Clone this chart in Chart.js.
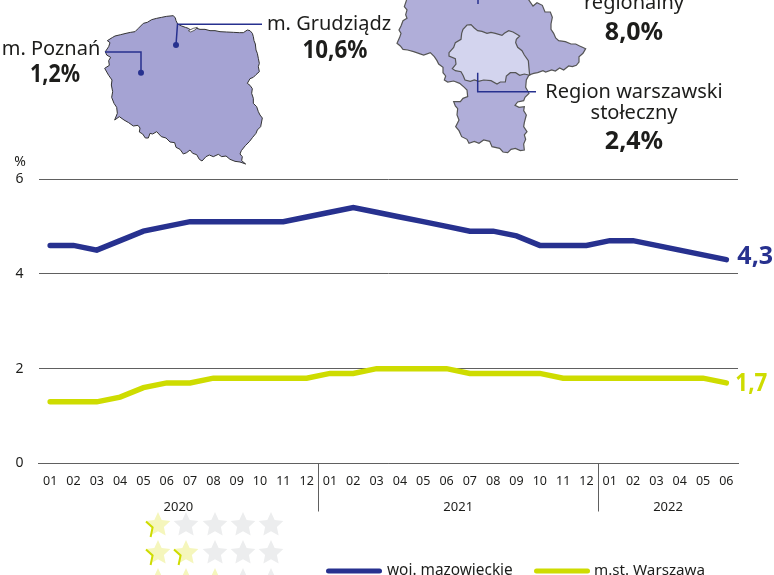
<!DOCTYPE html>
<html lang="pl">
<head>
<meta charset="utf-8">
<style>
html,body{margin:0;padding:0;background:#fff;overflow:hidden}
#wrap{position:relative;width:774px;height:575px}
canvas{display:block}
</style>
<script src="https://cdn.jsdelivr.net/npm/chart.js@4/dist/chart.umd.min.js"></script>
</head>
<body>
<div id="wrap"><canvas id="c" width="774" height="575"></canvas></div>
<script>
const monthLabels = ['01','02','03','04','05','06','07','08','09','10','11','12',
                     '01','02','03','04','05','06','07','08','09','10','11','12',
                     '01','02','03','04','05','06'];
const years = [{label:'2020',from:0,to:11},{label:'2021',from:12,to:23},{label:'2022',from:24,to:29}];
const mazowieckie = [4.6,4.6,4.5,4.7,4.9,5.0,5.1,5.1,5.1,5.1,5.1,5.2,
                     5.3,5.4,5.3,5.2,5.1,5.0,4.9,4.9,4.8,4.6,4.6,4.6,
                     4.7,4.7,4.6,4.5,4.4,4.3];
const warszawa =    [1.3,1.3,1.3,1.4,1.6,1.7,1.7,1.8,1.8,1.8,1.8,1.8,
                     1.9,1.9,2.0,2.0,2.0,2.0,1.9,1.9,1.9,1.9,1.8,1.8,
                     1.8,1.8,1.8,1.8,1.8,1.7];
const yTicks = [0,2,4,6];
const seriesNames = ['woj. mazowieckie','m.st. Warszawa'];
const BLUE='#27318f', GREEN='#cedc00', INK='#1d1d1b', GRID='#606060';
const FONT='"Noto Sans", "Open Sans", sans-serif';

/* decorative map outlines, traced at 3x and scaled down */
const polandOutline=[322,122,338,112,345,108,362,104,378,100,392,97,405,95,414,86,422,78,430,70,442,67,455,59,470,55,485,52,500,49,520,47,526,54,528,62,533,72,545,78,556,82,565,85,572,90,590,85,600,88,615,88,630,92,645,92,660,95,680,96,700,97,718,98,730,98,742,90,750,92,757,100,760,110,762,122,766,132,768,150,772,160,775,175,778,190,775,200,778,215,768,224,760,232,750,236,742,250,750,256,757,266,755,280,760,295,760,310,770,320,775,335,780,345,787,354,782,380,772,390,768,400,758,412,748,425,736,437,724,452,720,462,727,470,725,482,737,492,720,486,705,484,690,478,678,468,665,470,655,463,640,470,628,465,618,470,606,483,598,478,590,464,578,460,570,450,560,458,550,462,540,448,528,442,524,428,510,426,498,414,484,410,470,395,458,402,450,400,445,414,436,414,428,402,418,396,420,384,414,376,400,378,386,368,372,360,358,350,344,360,352,340,350,322,342,310,335,292,338,275,334,255,336,240,326,226,314,205,328,196,326,182,332,172,320,165,316,155,326,140,330,128];
const hel=[565,92,580,85,592,82,585,90,572,96];
const mazOutline=[60,-12,58,2,52,20,60,30,56,44,60,55,48,62,42,78,36,90,42,100,38,112,30,130,40,138,48,148,62,150,80,155,95,160,110,165,130,158,142,170,150,182,155,192,168,202,168,218,176,228,172,240,182,246,200,243,218,250,232,262,240,270,242,290,228,295,220,305,200,305,205,318,212,326,210,345,216,360,206,380,216,392,224,410,240,418,246,430,262,424,276,430,290,420,308,424,315,440,338,445,348,456,362,458,372,448,385,445,400,452,412,450,410,432,416,418,412,405,420,395,410,380,412,368,418,345,410,332,412,320,396,322,384,316,392,306,410,302,414,292,426,280,416,262,418,240,426,225,440,220,452,218,468,212,476,216,494,210,505,213,518,204,530,210,545,198,556,200,568,196,576,186,576,170,588,160,596,146,578,138,566,132,552,132,535,125,515,122,506,114,500,100,492,88,492,72,496,52,490,36,474,36,466,16,450,8,438,18,424,-2,420,-12];
const mazInner=[240,75,252,74,262,84,272,92,285,94,300,100,312,97,325,100,345,106,352,100,365,92,378,96,392,104,398,108,388,118,386,128,392,142,405,152,412,165,424,182,426,205,428,226,412,222,398,226,386,218,370,218,358,228,355,246,340,246,330,252,312,242,290,240,275,244,262,240,250,244,234,240,228,226,222,215,205,212,196,206,207,192,205,176,186,168,186,158,200,142,205,128,222,118,224,100,228,88];
const mazOffset=[387,0];
const polandOffset=[0,0];

const star=[[158,525],[186,525],[215,525],[243,525],[271,525]];
const starRows=[{y:0,on:1},{y:28,on:2},{y:56,on:3}];

function poly(ctx,pts,off){
  ctx.beginPath();
  for(let i=0;i<pts.length;i+=2){
    const x=off[0]+pts[i]/3,y=off[1]+pts[i+1]/3;
    i?ctx.lineTo(x,y):ctx.moveTo(x,y);
  }
  ctx.closePath();
}
function drawStar(ctx,cx,cy,fill,mark){
  const R=13,r=6.2;
  ctx.beginPath();
  for(let i=0;i<10;i++){
    const a=-Math.PI/2+i*Math.PI/5,q=i%2?r:R;
    const x=cx+q*Math.cos(a),y=cy+q*Math.sin(a);
    i?ctx.lineTo(x,y):ctx.moveTo(x,y);
  }
  ctx.closePath();ctx.fillStyle=fill;ctx.fill();
  if(mark){
    ctx.beginPath();
    ctx.moveTo(cx-12,cy-3.6);ctx.lineTo(cx-5.4,cy+2.4);ctx.lineTo(cx-7.4,cy+12);
    ctx.strokeStyle=GREEN;ctx.lineWidth=2;ctx.lineJoin='miter';ctx.stroke();
  }
}
function leader(ctx,pts){
  ctx.beginPath();
  pts.forEach((p,i)=>i?ctx.lineTo(p[0],p[1]):ctx.moveTo(p[0],p[1]));
  ctx.strokeStyle=BLUE;ctx.lineWidth=1.5;ctx.lineJoin='miter';ctx.stroke();
}
function dot(ctx,x,y){ctx.beginPath();ctx.arc(x,y,3,0,Math.PI*2);ctx.fillStyle=BLUE;ctx.fill();}
function label(ctx,text,x,y,size,weight,color,align,maxW){
  ctx.font=(weight||'400')+' '+size+'px '+FONT;
  ctx.fillStyle=color||INK;ctx.textAlign=align||'center';ctx.textBaseline='middle';
  if(maxW)ctx.fillText(text,x,y,maxW);else ctx.fillText(text,x,y);
}

const extras={
  id:'extras',
  afterDraw(chart){
    const ctx=chart.ctx,x=chart.scales.x,y=chart.scales.y;
    ctx.save();
    /* maps */
    poly(ctx,polandOutline,polandOffset);
    ctx.fillStyle='#a5a3d3';ctx.fill();ctx.strokeStyle='#333';ctx.lineWidth=1;ctx.stroke();
    poly(ctx,hel,polandOffset);
    ctx.fillStyle='#fff';ctx.fill();ctx.strokeStyle='#444';ctx.lineWidth=.8;ctx.stroke();
    poly(ctx,mazOutline,mazOffset);
    ctx.fillStyle='#b0aed9';ctx.fill();ctx.strokeStyle='#555';ctx.lineWidth=1.2;ctx.stroke();
    poly(ctx,mazInner,mazOffset);
    ctx.fillStyle='#d3d4ee';ctx.fill();ctx.strokeStyle='#555';ctx.lineWidth=1.2;ctx.stroke();
    /* leaders */
    leader(ctx,[[105,52],[141,52],[141,72]]);dot(ctx,141,72.7);
    leader(ctx,[[262,24.3],[177.5,24.3],[176,45]]);dot(ctx,176,45);
    leader(ctx,[[478,0],[478,4]]);
    leader(ctx,[[477.7,72.7],[477.7,91.7],[536,91.7]]);
    /* map texts */
    label(ctx,'m. Poznań',51,49,20);
    label(ctx,'1,2%',55,75,25,'700',INK,'center',50);
    label(ctx,'m. Grudziądz',329,24,20);
    label(ctx,'10,6%',335,51,25,'700',INK,'center',65);
    label(ctx,'regionalny',634,3,20);
    label(ctx,'8,0%',634,33,25,'700');
    label(ctx,'Region warszawski',634,92,20);
    label(ctx,'stołeczny',634,113,20);
    label(ctx,'2,4%',634,142,25,'700');
    label(ctx,'%',20,162,14);
    /* end labels, positioned from the last data points */
    const last=x.getPixelForValue(mazowieckie.length-1);
    label(ctx,String(mazowieckie[29]).replace('.',','),last+11,y.getPixelForValue(mazowieckie[29])-3,25,'700',BLUE,'left',36);
    label(ctx,String(warszawa[29]).replace('.',','),last+9,y.getPixelForValue(warszawa[29])+1,25,'700',GREEN,'left',32);
    /* year separators and labels */
    const base=y.getPixelForValue(0);
    years.forEach((yr,i)=>{
      const a=x.getPixelForValue(yr.from),b=x.getPixelForValue(yr.to);
      label(ctx,yr.label,(a+b)/2,507.5,13);
      if(i<years.length-1){
        const sx=Math.round((b+x.getPixelForValue(yr.to+1))/2)+.5;
        ctx.beginPath();ctx.moveTo(sx,base);ctx.lineTo(sx,511.5);
        ctx.strokeStyle=GRID;ctx.lineWidth=1;ctx.stroke();
      }
    });
    /* stars */
    starRows.forEach(row=>star.forEach((s,i)=>{
      const on=i<row.on;
      drawStar(ctx,s[0],s[1]+row.y,on?'#f5f6bc':'#ecedee',on);
    }));
    /* legend */
    const ds=chart.data.datasets;
    const items=[[326,382,387],[534,590,594]];
    const sizes=[15.4,15.2];
    ds.forEach((d,i)=>{
      const it=items[i];
      ctx.beginPath();ctx.moveTo(it[0]+2.5,571);ctx.lineTo(it[1]-2.5,571);
      ctx.strokeStyle=d.borderColor;ctx.lineWidth=5;ctx.lineCap='round';ctx.stroke();
      ctx.lineCap='butt';
      label(ctx,d.label,it[2],571,sizes[i],'400',INK,'left');
    });
    ctx.restore();
  }
};

new Chart(document.getElementById('c'),{
  type:'line',
  data:{labels:monthLabels,datasets:[
    {label:seriesNames[0],data:mazowieckie,borderColor:BLUE,backgroundColor:BLUE,borderWidth:5.5,pointRadius:0,tension:0,borderCapStyle:'round',borderJoinStyle:'miter'},
    {label:seriesNames[1],data:warszawa,borderColor:GREEN,backgroundColor:GREEN,borderWidth:5.5,pointRadius:0,tension:0,borderCapStyle:'round',borderJoinStyle:'miter'}
  ]},
  options:{
    responsive:false,animation:false,
    layout:{padding:{top:179,left:0,right:36,bottom:81.5}},
    plugins:{legend:{display:false},tooltip:{enabled:false},title:{display:false}},
    scales:{
      x:{type:'category',offset:true,
        grid:{display:false},
        border:{display:true,color:GRID,width:1},
        ticks:{autoSkip:false,maxRotation:0,minRotation:0,padding:2,color:INK,font:{family:FONT,size:12.5}},
        afterFit(s){s.height=30;}
      },
      y:{min:0,max:6,
        afterBuildTicks(s){s.ticks=yTicks.map(v=>({value:v}));},
        grid:{color:GRID,lineWidth:1,drawTicks:false},
        border:{display:false},
        ticks:{padding:15,color:INK,font:{family:FONT,size:14}},
        afterFit(s){s.width=38.5;}
      }
    }
  },
  plugins:[extras]
});
</script>
</body>
</html>
